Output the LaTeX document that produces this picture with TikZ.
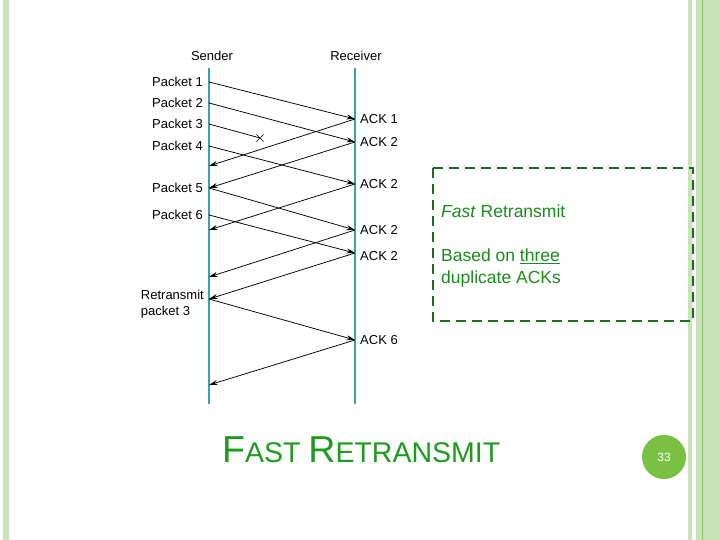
\documentclass[tikz,border=0pt]{standalone}
\usepackage{fontspec}
\setmainfont{Liberation Sans}
\usetikzlibrary{positioning,arrows.meta,shapes.misc}
\definecolor{stripe}{HTML}{C6E4B8}
\definecolor{stripedark}{HTML}{8FC46F}
\definecolor{timeline}{HTML}{3A9FB8}
\definecolor{boxgreen}{HTML}{1C6E1C}
\definecolor{textgreen}{HTML}{1A8C1A}
\definecolor{titlegreen}{HTML}{1E9A1E}
\definecolor{badge}{HTML}{79C043}

\begin{document}
\begin{tikzpicture}[x=1pt, y=-1pt, >={Stealth[length=8.5pt,width=5pt]},
    lbl/.style={font=\fontsize{13}{16}\selectfont, inner sep=0pt},
    msg/.style={->, line width=0.75pt},
    life/.style={timeline, line width=1.8pt}]
\useasboundingbox (0,0) rectangle (720,540);
\fill[white] (0,0) rectangle (720,540);

% side stripes
\fill[stripe] (3,0) rectangle (9,540);
\fill[stripe] (688,0) rectangle (692,540);
\fill[stripe] (696,0) rectangle (720,540);
\draw[stripedark, line width=1pt] (702.5,0) -- (702.5,540);

% time lines
\coordinate (stop) at (209,68);
\coordinate (sbot) at (209,404);
\coordinate (rtop) at (355,68);
\coordinate (rbot) at (355,404);
\draw[life] (stop) -- (sbot);
\draw[life] (rtop) -- (rbot);
\node[lbl] (snd) at (212,56) {Sender};
\node[lbl] (rcv) at (356,56) {Receiver};

% sender side
\coordinate (s1) at (209,82);
\coordinate (s2) at (209,103);
\coordinate (s3) at (209,124);
\coordinate (s4) at (209,146);
\coordinate (a1) at (209,166);
\coordinate (s5) at (209,188);
\coordinate (s6) at (209,215);
\coordinate (a2) at (209,230);
\coordinate (a3) at (209,277);
\coordinate (sr) at (209,299);
\coordinate (a6) at (209,385);
% receiver side
\coordinate (r1) at (355,119);
\coordinate (r2) at (355,142);
\coordinate (r4) at (355,184);
\coordinate (r5) at (355,230);
\coordinate (r6) at (355,253);
\coordinate (rr) at (355,340);

\node[lbl, left=6pt of s1] (p1) {Packet 1};
\node[lbl, left=6pt of s2] (p2) {Packet 2};
\node[lbl, left=6pt of s3] (p3) {Packet 3};
\node[lbl, left=6pt of s4] (p4) {Packet 4};
\node[lbl, left=6pt of s5] (p5) {Packet 5};
\node[lbl, left=6pt of s6] (p6) {Packet 6};
\node[lbl, align=left, anchor=east] (pr) at (204,304) {Retransmit\\packet 3};

\node[lbl, right=5pt of r1] (k1) {ACK 1};
\node[lbl, right=5pt of r2] (k2) {ACK 2};
\node[lbl, right=5pt of r4] (k3) {ACK 2};
\node[lbl, right=5pt of r5] (k4) {ACK 2};
\node[lbl, right=5pt of r6, yshift=-3pt] (k5) {ACK 2};
\node[lbl, right=5pt of rr] (k6) {ACK 6};

\node[draw, cross out, line width=0.7pt, minimum size=6.5pt, inner sep=0pt] (lost) at (260,138) {};

\draw[msg] (s1) -- (r1);
\draw[msg] (s2) -- (r2);
\draw[line width=0.75pt] (s3) -- (lost.center);
\draw[msg] (s4) -- (r4);
\draw[msg] (r1) -- (a1);
\draw[msg] (r2) -- (s5);
\draw[msg] (s5) -- (r5);
\draw[msg] (r4) -- (a2);
\draw[msg] (s6) -- (r6);
\draw[msg] (r5) -- (a3);
\draw[msg] (r6) -- (sr);
\draw[msg] (sr) -- (rr);
\draw[msg] (rr) -- (a6);

% note box
\draw[boxgreen, line width=2.8pt, dash pattern=on 10pt off 6pt] (433,168) rectangle (693,321);
\node[anchor=west, textgreen, inner sep=0pt, font=\fontsize{17.5}{18}\selectfont] (note) at (441,211) {\textit{Fast} Retransmit};
\node[anchor=north west, textgreen, inner sep=0pt, align=left, font=\fontsize{17.5}{22}\selectfont] (why) at (441,249) {Based on \underline{three}\\duplicate ACKs};

% title
\node[anchor=base west, titlegreen, inner sep=0pt] (title) at (222,462)
  {\fontsize{37.5}{40}\selectfont F\fontsize{28.5}{30}\selectfont AST \fontsize{37.5}{40}\selectfont R\fontsize{28.5}{30}\selectfont ETRANSMIT};

% slide number
\fill[badge] (664,457) circle (22);
\node[white, font=\fontsize{12}{12}\selectfont] (num) at (664,457) {33};
\end{tikzpicture}
\end{document}
